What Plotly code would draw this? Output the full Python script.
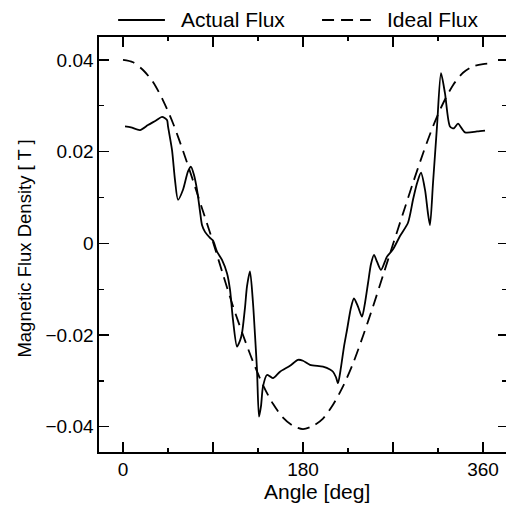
import plotly.graph_objects as go

# ---- data ----
actual_angle = [2, 8, 17, 25, 33, 39, 44, 45, 49, 52, 55, 60, 65, 68, 71, 74, 77, 79,
                82, 87, 90, 94, 99, 104, 107, 110, 114, 117, 119, 122, 124, 127, 130,
                132, 134, 136, 138, 140, 144, 147, 150, 157, 167, 175, 180, 187, 200,
                207, 210, 213, 215, 218, 221, 224, 228, 231, 235, 239, 242, 245, 248,
                251, 254, 258, 264, 270, 277, 285, 290, 294, 298, 302, 305, 307, 310,
                314, 318, 322, 327, 331, 335, 342, 354, 362]
actual_flux = [0.0255, 0.0253, 0.0247, 0.0258, 0.0268, 0.0276, 0.0269, 0.0255, 0.0204,
               0.0138, 0.0095, 0.0117, 0.0157, 0.0167, 0.0149, 0.0117, 0.0070, 0.0040,
               0.0025, 0.0012, 0.0006, -0.0018, -0.0036, -0.0065, -0.0101, -0.0167,
               -0.0225, -0.0212, -0.0196, -0.0140, -0.0094, -0.0061, -0.0130, -0.0200,
               -0.0276, -0.0378, -0.0355, -0.0312, -0.0287, -0.0290, -0.0294, -0.0280,
               -0.0267, -0.0254, -0.0256, -0.0265, -0.0269, -0.0275, -0.0280, -0.0292,
               -0.0305, -0.0270, -0.0225, -0.0189, -0.0140, -0.0120, -0.0138, -0.0160,
               -0.0130, -0.0087, -0.0045, -0.0025, -0.0040, -0.0058, -0.0029, -0.0013,
               0.0016, 0.0045, 0.0095, 0.0131, 0.0154, 0.0117, 0.0065, 0.0040, 0.0131,
               0.0255, 0.0371, 0.0327, 0.0255, 0.0251, 0.0261, 0.0242, 0.0244, 0.0246]

ideal_angle = [0, 10, 20, 30, 40, 50, 60, 70, 80, 90, 100, 110, 120, 130, 140, 150, 160,
               170, 180, 190, 200, 210, 220, 230, 240, 250, 260, 270, 280, 290, 300, 310,
               320, 330, 340, 350, 360, 365]
ideal_flux = [0.0400, 0.0395, 0.0378, 0.0352, 0.0312, 0.0262, 0.0202, 0.0137, 0.0070,
              0.0003, -0.0068, -0.0137, -0.0200, -0.0258, -0.0309, -0.0350, -0.0380,
              -0.0398, -0.0405, -0.0398, -0.0382, -0.0352, -0.0312, -0.0262, -0.0202,
              -0.0138, -0.0070, -0.0002, 0.0065, 0.0132, 0.0196, 0.0255, 0.0305, 0.0345,
              0.0372, 0.0386, 0.0391, 0.0392]

series_names = ["Actual Flux", "Ideal Flux"]
x_tickvals = [0, 90, 180, 270, 360]
x_ticktext = ["0", "", "180", "", "360"]
y_tickvals = [-0.04, -0.02, 0, 0.02, 0.04]
y_ticktext = ["\u22120.04", "\u22120.02", "0", "0.02", "0.04"]

FONT = "Liberation Sans, Arial, sans-serif"
X_RANGE = [-24, 383]
Y_RANGE = [-0.0455, 0.045]
LW = 1.8
DASH = "12px,7px"

fig = go.Figure()
fig.add_trace(go.Scatter(x=actual_angle, y=actual_flux, name=series_names[0], mode="lines",
                         line=dict(color="black", width=LW, shape="spline", smoothing=0.7)))
fig.add_trace(go.Scatter(x=ideal_angle, y=ideal_flux, name=series_names[1], mode="lines",
                         line=dict(color="black", width=LW, dash=DASH,
                                   shape="spline", smoothing=0.8)))
# helper trace for the right-hand tick axis
fig.add_trace(go.Scatter(x=[0], y=[0], yaxis="y2", mode="lines", showlegend=False,
                         hoverinfo="skip", line=dict(color="rgba(0,0,0,0)")))

tickfont = dict(family=FONT, size=19, color="black")

# hand-drawn legend above the plot (paper coordinates)
LEG_Y = 1.041
legend_shapes = [
    dict(type="line", xref="paper", yref="paper", x0=0.047, x1=0.162, y0=LEG_Y, y1=LEG_Y,
         line=dict(color="black", width=LW)),
    dict(type="line", xref="paper", yref="paper", x0=0.548, x1=0.668, y0=LEG_Y, y1=LEG_Y,
         line=dict(color="black", width=LW, dash=DASH)),
]
legend_texts = [
    dict(text=series_names[0], xref="paper", yref="paper", x=0.197, y=LEG_Y,
         xanchor="left", yanchor="middle", showarrow=False,
         font=dict(family=FONT, size=21, color="black")),
    dict(text=series_names[1], xref="paper", yref="paper", x=0.702, y=LEG_Y,
         xanchor="left", yanchor="middle", showarrow=False,
         font=dict(family=FONT, size=21, color="black")),
]

fig.update_layout(
    width=506, height=508,
    margin=dict(l=99, r=0, t=37, b=56),
    paper_bgcolor="white", plot_bgcolor="white",
    font=dict(family=FONT, color="black"),
    showlegend=False,
    xaxis=dict(range=X_RANGE, showgrid=False, zeroline=False, showline=True,
               linecolor="black", linewidth=1.6, mirror="ticks",
               ticks="inside", ticklen=10, tickwidth=1.4, tickcolor="black",
               tickvals=x_tickvals, ticktext=x_ticktext, tickfont=tickfont,
               minor=dict(dtick=45, tick0=0, ticks="inside", ticklen=4,
                          tickwidth=1.3, tickcolor="black")),
    yaxis=dict(range=Y_RANGE, showgrid=False, zeroline=False, showline=True,
               linecolor="black", linewidth=1.6,
               ticks="inside", ticklen=10, tickwidth=1.4, tickcolor="black",
               tickvals=y_tickvals, ticktext=y_ticktext, tickfont=tickfont,
               minor=dict(dtick=0.01, tick0=0, ticks="inside", ticklen=5,
                          tickwidth=1.3, tickcolor="black")),
    yaxis2=dict(range=Y_RANGE, overlaying="y", side="right", showgrid=False,
                zeroline=False, showline=False, showticklabels=False,
                ticks="inside", ticklen=8, tickwidth=1.4, tickcolor="black",
                tickvals=y_tickvals,
                minor=dict(dtick=0.01, tick0=0, ticks="inside", ticklen=4,
                           tickwidth=1.3, tickcolor="black")),
    shapes=legend_shapes,
    annotations=legend_texts + [
        dict(text="Angle [deg]", xref="paper", yref="paper", x=0.535, y=-0.094,
             xanchor="center", yanchor="middle", showarrow=False,
             font=dict(family=FONT, size=21, color="black")),
        dict(text="Magnetic Flux Density [ T ]", xref="paper", yref="paper",
             x=-0.182, y=0.49, xanchor="center", yanchor="middle", textangle=-90,
             showarrow=False, font=dict(family=FONT, size=18.5, color="black")),
    ],
)

fig.write_html("out.html",
               config={"displayModeBar": False, "staticPlot": True},
               post_script="document.body.style.margin='0';document.body.style.padding='0';")
